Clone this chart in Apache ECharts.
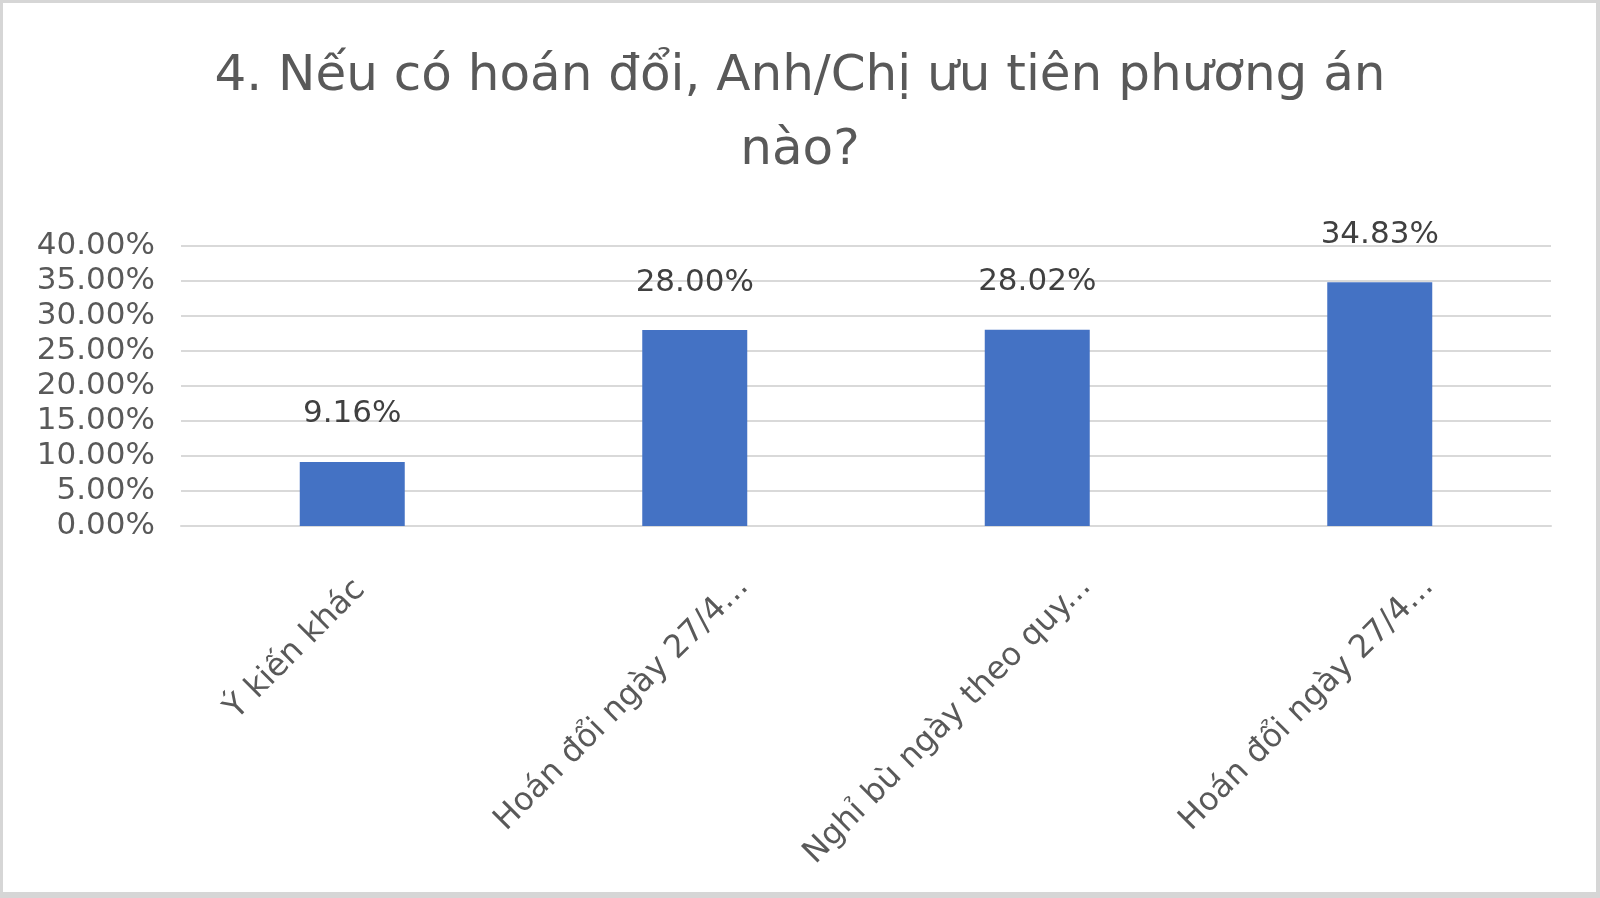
<!DOCTYPE html>
<html>
<head>
<meta charset="utf-8">
<script src="https://cdn.jsdelivr.net/npm/echarts@6/dist/echarts.min.js"></script>
<style>
html,body{margin:0;padding:0;background:#fff;}
#wrap{position:absolute;left:0;top:0;width:1600px;height:898px;box-sizing:border-box;border:3px solid #d6d6d6;border-bottom-width:6px;border-right-width:4px;}
#chart{position:absolute;left:0;top:0;width:1600px;height:898px;}
</style>
</head>
<body>
<div id="chart"></div>
<div id="wrap"></div>
<script>
const titleText = "4. Nếu có hoán đổi, Anh/Chị ưu tiên phương án\nnào?";
const categories = ["Ý kiến khác", "Hoán đổi ngày 27/4...", "Nghỉ bù ngày theo quy...", "Hoán đổi ngày 27/4..."];
const values = [9.16, 28.00, 28.02, 34.83];
const yTicks = [0, 5, 10, 15, 20, 25, 30, 35, 40];

const FONT = "DejaVu Sans";
const GREY = "#595959";
// label placement style (Excel-like anchoring of rotated labels)
const shortLabelStyle = {verticalAlign: 'top', padding: [0, 5, 0, 0]};
const longLabelStyle = {verticalAlign: 'top', padding: [27, -26, 0, 0]};
const xData = categories.map((c, i) => ({
  value: c,
  textStyle: i === 0 ? shortLabelStyle : longLabelStyle
}));

const chart = echarts.init(document.getElementById('chart'), null, {renderer: 'canvas'});
chart.setOption({
  backgroundColor: '#ffffff',
  animation: false,
  title: {
    text: titleText,
    left: 'center',
    top: 35,
    textStyle: {fontFamily: FONT, fontSize: 50, fontWeight: 'normal', color: GREY, lineHeight: 74}
  },
  grid: {left: 181, right: 49, top: 246, bottom: 372, containLabel: false},
  xAxis: {
    type: 'category',
    data: xData,
    axisLine: {show: true, lineStyle: {color: '#d9d9d9', width: 2}},
    axisTick: {show: false},
    axisLabel: {rotate: 45, margin: 44, fontFamily: FONT, fontSize: 32, color: GREY, interval: 0}
  },
  yAxis: {
    type: 'value',
    min: yTicks[0],
    max: yTicks[yTicks.length - 1],
    interval: 5,
    axisLine: {show: false},
    axisTick: {show: false},
    splitLine: {lineStyle: {color: '#d9d9d9', width: 2}},
    axisLabel: {margin: 26, fontFamily: FONT, fontSize: 31, color: GREY,
      formatter: v => v.toFixed(2) + '%'}
  },
  series: [{
    type: 'bar',
    data: values,
    barWidth: 105,
    itemStyle: {color: '#4472C4'},
    label: {show: true, position: 'top', distance: 32, fontFamily: FONT, fontSize: 31, color: '#404040',
      formatter: p => p.value.toFixed(2) + '%'}
  }]
});
</script>
</body>
</html>
